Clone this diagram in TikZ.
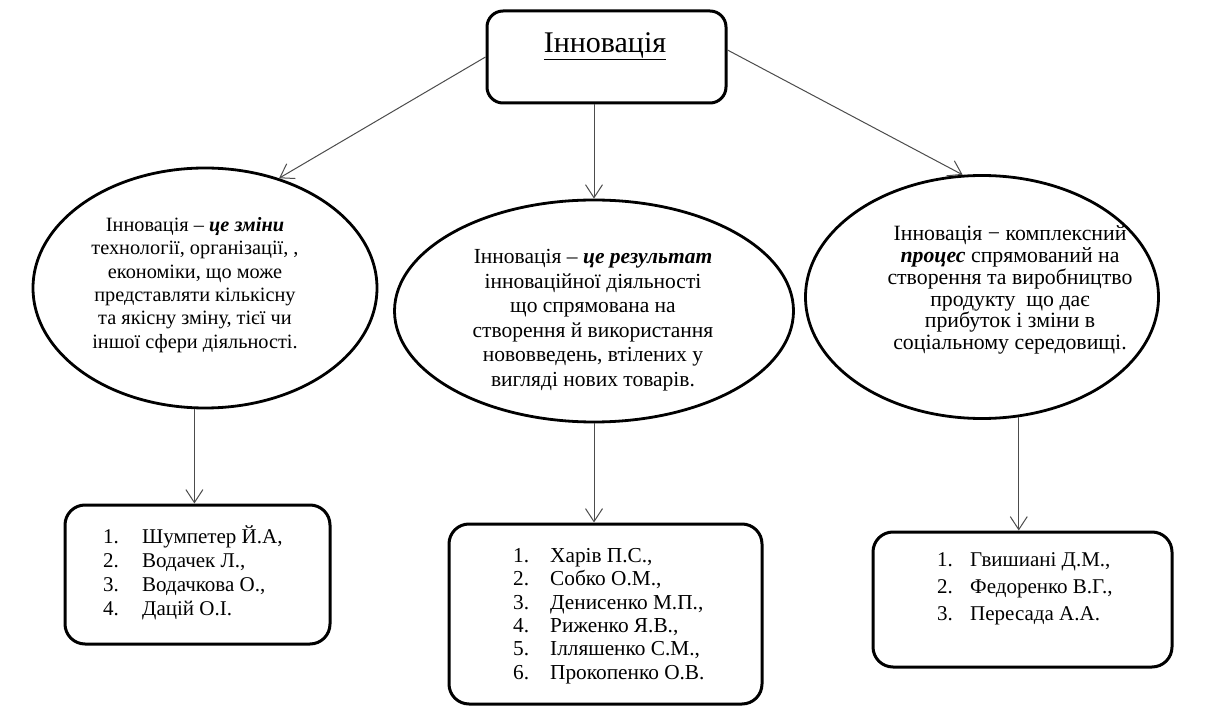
\documentclass[tikz,border=0pt]{standalone}
\usepackage{fontspec}
\setmainfont{Liberation Serif}
\usetikzlibrary{arrows.meta,shapes.geometric}
\begin{document}
\begin{tikzpicture}[x=1pt,y=-1pt,
  box/.style={draw=black, line width=3pt, rounded corners=16pt, inner sep=0pt},
  ell/.style={draw=black, ellipse, line width=2.8pt, inner sep=0pt},
  arr/.style={draw=black!70, line width=1pt, -{Straight Barb[length=13pt,width=17pt]}},
  txt/.style={align=center, inner sep=0pt},
  lst/.style={align=left, inner sep=0pt, anchor=west}]
\useasboundingbox[fill=white] (0,0) rectangle (1208,708);

% top box
\node[box, minimum width=239pt, minimum height=92pt] (top) at (606.5,57) {};
\node[inner sep=0pt, font=\fontsize{30}{34}\selectfont] (title) at (605,46) {\underline{Інновація}};

% ellipses
\node[ell, minimum width=344pt, minimum height=240pt] (lell) at (205,288) {};
\node[ell, minimum width=399pt, minimum height=222pt] (mell) at (594,311) {};
\node[ell, minimum width=353pt, minimum height=243pt] (rell) at (982,297) {};

\node[txt, font=\fontsize{20.3}{23.4}\selectfont] (ltxt) at (195,285)
  {Інновація – \textbf{\textit{це зміни}}\\технології, організації, ,\\економіки, що може\\представляти кількісну\\та якісну зміну, тієї чи\\іншої сфери діяльності.};
\node[txt, font=\fontsize{21.5}{24.5}\selectfont] (mtxt) at (593,320)
  {Інновація – \textbf{\textit{це результат}}\\інноваційної діяльності\\що спрямована на\\створення й використання\\нововведень, втілених у\\вигляді нових товарів.};
\node[txt, font=\fontsize{21.8}{21.8}\selectfont] (rtxt) at (1010,290)
  {Інновація − комплексний\\\textbf{\textit{процес}} спрямований на\\створення та виробництво\\продукту\ \ що дає\\прибуток і зміни в\\соціальному середовищі.};

% bottom boxes
\node[box, rounded corners=20pt, minimum width=265pt, minimum height=139pt] (lbox) at (197.5,574.5) {};
\node[box, rounded corners=20pt, minimum width=313pt, minimum height=180pt] (mbox) at (605.5,614) {};
\node[box, rounded corners=20pt, minimum width=299pt, minimum height=135pt] (rbox) at (1022.5,599.5) {};

\node[lst, font=\fontsize{21}{24}\selectfont] (llist) at (103,573)
  {\makebox[39pt][l]{1.}Шумпетер Й.А,\\\makebox[39pt][l]{2.}Водачек Л.,\\\makebox[39pt][l]{3.}Водачкова О.,\\\makebox[39pt][l]{4.}Дацій О.І.};
\node[lst, font=\fontsize{21.3}{23.3}\selectfont] (mlist) at (513,616)
  {\makebox[37pt][l]{1.}Харів П.С.,\\\makebox[37pt][l]{2.}Собко О.М.,\\\makebox[37pt][l]{3.}Денисенко М.П.,\\\makebox[37pt][l]{4.}Риженко Я.В.,\\\makebox[37pt][l]{5.}Ілляшенко С.М.,\\\makebox[37pt][l]{6.}Прокопенко О.В.};
\node[lst, font=\fontsize{21}{27}\selectfont] (rlist) at (937,589)
  {\makebox[33pt][l]{1.}Гвишиані Д.М.,\\\makebox[33pt][l]{2.}Федоренко В.Г.,\\\makebox[33pt][l]{3.}Пересада А.А.};

% connectors
\draw[arr] (top.west) -- (lell.56);
\draw[arr] ([yshift=7pt]top.east) -- (rell.99);
\draw[arr] (top.south -| mell.north) -- (mell.north);
\draw[arr] (lell.-95) -- (lell.-95 |- lbox.north);
\draw[arr] (mell.south) -- (mell.south |- mbox.north);
\draw[arr] (rell.-73) -- (rell.-73 |- rbox.north);
\end{tikzpicture}
\end{document}
